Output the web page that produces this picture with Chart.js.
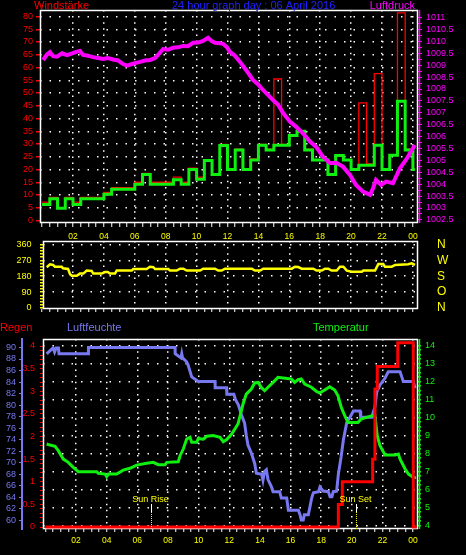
<!DOCTYPE html>
<html lang="de">
<head>
<meta charset="UTF-8">
<title>24 hour graph day : 06 April 2016</title>
<style>
    html, body { margin: 0; padding: 0; background: #000; }
    body { width: 466px; height: 555px; position: relative; overflow: hidden; }
    canvas { position: absolute; left: 0; }
    #p1 { top: 0; }
    #p2 { top: 230px; }
    #p3 { top: 315px; }
</style>
<script src="https://cdn.jsdelivr.net/npm/chart.js"></script>
</head>
<body>
<canvas id="p1" width="466" height="245"></canvas>
<canvas id="p2" width="466" height="90"></canvas>
<canvas id="p3" width="466" height="240"></canvas>
<script>
    // --- data (hours of the day, 0 = 00:00) ---
    const xLabels = ['02', '04', '06', '08', '10', '12', '14', '16', '18', '20', '22', '00'];

    // wind, half hour steps
    const windHours = [0, 0.5, 1, 1.5, 2, 2.5, 3, 3.5, 4, 4.5, 5, 5.5, 6, 6.5, 7, 7.5, 8, 8.5, 9, 9.5,
        10, 10.5, 11, 11.5, 12, 12.5, 13, 13.5, 14, 14.5, 15, 15.5, 16, 16.5, 17, 17.5, 18, 18.5, 19, 19.5,
        20, 20.5, 21, 21.5, 22, 22.5, 23, 23.5, 24, 24.13];
    const windAvg = [6.3, 8.5, 4.8, 8.5, 6.3, 8.5, 8.5, 8.5, 10.3, 12.3, 12.3, 12.3, 14.2, 18, 14.2, 14.2, 14.2, 16, 14.2, 20,
        16.2, 23.5, 18, 29.4, 20, 27.6, 20, 23.7, 29.5, 27.6, 29.5, 29.5, 33.3, 35, 27.6, 23.7, 23.7, 18, 25.5, 23.7,
        20, 21.7, 21.7, 29.5, 20, 25.6, 46.8, 27.6, 20, 20];
    const windGust = [7.2, 9.1, 4.8, 9.1, 7.2, 9.1, 9.1, 9.1, 11, 12.9, 12.9, 12.9, 15, 18.5, 15, 15, 15, 17, 15, 20.5,
        17, 23.8, 18, 29.8, 20, 28, 20, 24.2, 29.8, 28, 55.5, 29.8, 33.5, 35.2, 28, 23.7, 23.7, 18.3, 25.8, 23.7,
        20, 46.1, 22.2, 57.6, 20, 25.6, 81.4, 28, 20, 20];

    // Luftdruck (hPa)
    const pressHours = [0.06, 0.32, 0.51, 0.71, 0.96, 1.29, 1.61, 1.94, 2.26, 2.45, 2.65, 2.97, 3.29, 3.62, 3.94,
        4.26, 4.59, 4.91, 5.24, 5.5, 5.82, 6.08, 6.34, 6.66, 6.99, 7.31, 7.5, 7.83, 8.15, 8.47, 8.8, 9.12, 9.44,
        9.77, 10.09, 10.42, 10.74, 11.0, 11.2, 11.52, 11.71, 11.97, 12.16, 12.48, 12.81, 13.2, 13.65, 13.97, 14.3,
        14.62, 14.94, 15.27, 15.59, 16.04, 16.43, 16.88, 17.34, 17.73, 18.18, 18.64, 19.02, 19.47, 19.93, 20.32,
        20.77, 21.23, 21.42, 21.61, 21.94, 22.26, 22.71, 23.16, 23.55, 24.0, 24.13];
    const pressValues = [1009.22, 1009.45, 1009.55, 1009.38, 1009.36, 1009.5, 1009.42, 1009.5, 1009.57, 1009.6,
        1009.43, 1009.4, 1009.34, 1009.3, 1009.26, 1009.3, 1009.24, 1009.2, 1009.05, 1008.98, 1009.05, 1009.1,
        1009.14, 1009.2, 1009.22, 1009.3, 1009.43, 1009.68, 1009.65, 1009.73, 1009.75, 1009.81, 1009.8, 1009.94,
        1009.95, 1010.02, 1010.15, 1010.0, 1009.94, 1009.92, 1009.9, 1009.75, 1009.56, 1009.4, 1009.14, 1008.8,
        1008.38, 1008.2, 1007.96, 1007.75, 1007.54, 1007.35, 1007.0, 1006.63, 1006.42, 1006.14, 1005.79, 1005.58,
        1005.16, 1004.88, 1004.9, 1004.74, 1004.39, 1003.97, 1003.69, 1003.55, 1003.83, 1004.18, 1003.97, 1004.11,
        1004.04, 1004.67, 1005.02, 1005.51, 1005.65];

    // Windrichtung (Grad)
    const dirHours = [0.3, 0.51, 0.71, 0.83, 1.27, 1.35, 1.68, 1.81, 1.92, 2.24, 2.45, 2.67, 2.89, 3.21, 3.31,
        3.86, 4.07, 4.25, 4.39, 4.72, 4.83, 5.8, 5.9, 6.77, 6.98, 7.2, 7.31, 8.17, 8.28, 8.71, 8.93, 9.14, 9.36,
        10.22, 10.43, 11.19, 11.4, 11.62, 11.84, 13.57, 13.78, 14.11, 14.32, 16.16, 16.37, 16.58, 16.8, 17.55,
        17.77, 18.1, 18.31, 18.52, 18.74, 19.07, 19.28, 19.5, 19.72, 20.04, 20.69, 20.79, 21.55, 21.76, 22.08,
        22.19, 22.63, 22.85, 23.7, 23.92, 24.14];
    const dirValues = [231, 248, 244, 234, 234, 225, 221, 191, 183, 183, 195, 195, 212, 210, 195, 195, 204, 204,
        195, 195, 212, 212, 221, 221, 234, 231, 221, 221, 212, 212, 223, 223, 212, 212, 223, 223, 212, 212, 223,
        223, 212, 212, 223, 223, 234, 232, 223, 223, 212, 212, 223, 223, 212, 212, 234, 234, 212, 206, 206, 212,
        212, 249, 249, 234, 234, 244, 248, 253, 244];

    // Luftfeuchte (%)
    const humHours = [0.08, 0.41, 0.5, 0.6, 0.7, 0.85, 0.89, 2.8, 2.81, 8.46, 8.47, 8.85, 8.9, 8.95, 9.22, 9.31,
        9.55, 9.98, 11.07, 11.08, 11.83, 11.84, 12.3, 12.4, 12.6, 12.8, 13.0, 13.11, 13.22, 13.44, 13.55, 13.66,
        13.77, 14.12, 14.2, 14.3, 14.42, 14.53, 14.75, 14.86, 15.29, 15.4, 15.75, 15.86, 16.51, 16.62, 16.7, 16.83,
        16.9, 17.16, 17.27, 17.38, 17.49, 17.83, 17.92, 18.14, 18.47, 18.58, 18.7, 18.79, 19.01, 19.12, 19.3,
        19.45, 19.67, 19.88, 20.1, 20.54, 20.58, 21.3, 21.51, 21.63, 21.84, 22.17, 22.38, 23.15, 23.26, 23.36,
        24.01, 24.13];
    const humValues = [88.9, 89.7, 89.9, 89.2, 89.9, 89.9, 88.9, 88.9, 90, 90, 88.9, 88.2, 88.9, 88.2, 87.5, 87,
        84.9, 84.1, 84.1, 83, 83, 81.9, 81.9, 81, 80, 78.3, 76.9, 74.8, 73.1, 71.7, 70.8, 69.9, 68.2, 68, 67, 68.5,
        68.8, 67.1, 65.9, 65, 65, 63.9, 63.9, 61.8, 61.8, 61, 60.1, 60.1, 61, 61, 62.4, 63.9, 64.8, 65, 65.8, 65.1,
        65, 64.1, 64.1, 65, 65.1, 68, 71, 74, 77, 77.9, 79, 79, 77.9, 77.9, 79.7, 82.3, 83.5, 84.7, 85.8, 85.8,
        84.9, 84.1, 84.1, 82.9];

    // Temperatur (°C)
    const tempHours = [0.08, 0.3, 0.63, 0.84, 1.17, 1.49, 1.82, 2.15, 3.35, 3.45, 3.89, 4.0, 4.11, 4.65, 5.08,
        5.52, 5.96, 6.61, 7.04, 7.37, 7.81, 7.92, 8.67, 8.79, 9.0, 9.22, 9.44, 9.55, 9.88, 9.98, 10.31, 10.53,
        10.96, 11.4, 11.61, 11.83, 12.16, 12.57, 12.9, 13.11, 13.44, 13.66, 13.88, 14.09, 14.31, 14.53, 14.86,
        15.18, 15.51, 16.05, 16.27, 16.49, 16.7, 16.93, 17.36, 17.68, 17.9, 18.23, 18.56, 18.88, 19.1, 19.31,
        19.54, 19.75, 20.4, 20.62, 20.95, 21.34, 21.51, 21.66, 21.84, 22.17, 22.82, 23.04, 23.15, 23.48, 23.7,
        24.01, 24.19];
    const tempValues = [8.53, 8.47, 8.4, 8.16, 7.69, 7.51, 7.23, 6.99, 6.99, 6.9, 6.86, 6.71, 6.86, 6.86, 7.08,
        7.18, 7.36, 7.46, 7.51, 7.38, 7.38, 7.51, 7.54, 7.88, 8.25, 8.81, 8.9, 8.62, 8.62, 8.84, 8.8, 8.96, 9.0,
        8.9, 8.66, 8.78, 9.08, 9.64, 10.75, 11.3, 11.58, 11.92, 11.95, 11.68, 11.49, 11.68, 11.95, 12.23, 12.2,
        12.14, 11.95, 12.1, 12.14, 11.86, 11.68, 11.46, 11.36, 11.53, 11.71, 11.53, 11.21, 10.57, 10.1, 9.73,
        9.73, 9.92, 10.01, 10.1, 10.1, 8.99, 8.43, 7.92, 7.92, 7.97, 7.69, 7.14, 6.86, 6.68, 6.65];

    // Regen (mm, Tagessumme)
    const rainHours = [0, 19.12, 19.38, 21.36, 21.51, 21.66, 23.0, 24.01, 24.24];
    const rainValues = [0, 0.5, 1.0, 1.5, 3.05, 3.55, 4.07, 0, 0];

    // Sonnenauf- und -untergang
    const sunHours = [6.87, 20.25];
    const sunLabels = ['Sun Rise', 'Sun Set'];

    // tick labels
    const windTicks = [0, 5, 10, 15, 20, 25, 30, 35, 40, 45, 50, 55, 60, 65, 70, 75, 80];
    const pressTicks = [1002.5, 1003, 1003.5, 1004, 1004.5, 1005, 1005.5, 1006, 1006.5, 1007, 1007.5, 1008,
        1008.5, 1009, 1009.5, 1010, 1010.5, 1011];
    const dirTicks = [0, 90, 180, 270, 360];
    const dirNames = ['N', 'O', 'S', 'W', 'N'];
    const humTicks = [60, 62, 64, 66, 68, 70, 72, 74, 76, 78, 80, 82, 84, 86, 88, 90];
    const rainTicks = [0, 0.5, 1, 1.5, 2, 2.5, 3, 3.5, 4];
    const tempTicks = [4, 5, 6, 7, 8, 9, 10, 11, 12, 13, 14];

    // --- styles ---
    const FONT = "'Liberation Sans', Arial, sans-serif";
    const WHITE = '#ffffff', YELLOW = '#ffff00', RED = '#ff0000', MAGENTA = '#ff00ff',
          GREEN = '#10f010', BLUE = '#7878f0', NONE = 'rgba(0,0,0,0)';

    Chart.defaults.font.family = FONT;
    Chart.defaults.font.size = 9;

    const pts = (xs, ys) => xs.map((x, i) => ({ x: x, y: ys[i] }));
    const onStep = (v, st) => Math.abs(v / st - Math.round(v / st)) < 1e-6;
    function steps(a, b, st) {
        const out = [];
        for (let v = a; v <= b + 1e-9; v += st) out.push(Math.round(v * 1000) / 1000);
        return out;
    }
    const setTicks = list => s => { s.ticks = list.map(v => ({ value: v })); };
    const fixW = w => s => { s.width = w; s.paddingTop = 0; s.paddingBottom = 0; };
    const fixH = h => s => { s.height = h; s.paddingLeft = 0; s.paddingRight = 0; };

    function hourAxis(min, max, h, showLabels, tickLen, pad) {
        return {
            type: 'linear', position: 'bottom', min: min, max: max,
            afterBuildTicks: setTicks(steps(0, 24, 0.5)),
            afterFit: fixH(h),
            ticks: {
                display: showLabels, color: YELLOW, padding: pad, autoSkip: false, maxRotation: 0,
                font: { size: 8.5 },
                callback: v => (onStep(v, 2) && v > 0) ? xLabels[v / 2 - 1] : ''
            },
            grid: {
                color: c => (onStep(c.tick.value, 2) && c.tick.value > 0) ? WHITE : NONE,
                lineWidth: 1.5, tickColor: WHITE, tickLength: tickLen, tickWidth: 1
            },
            border: { display: false, dash: [1.5, 4.6] }
        };
    }

    // frame, titles, extra axis lines and sun marks
    const panelPlugin = {
        id: 'panel',
        beforeDatasetsDraw(chart, args, o) {
            const { ctx, chartArea: a } = chart;
            ctx.save();
            ctx.strokeStyle = WHITE;
            ctx.lineWidth = 1.5;
            ctx.strokeRect(a.left + 0.5, a.top + 0.5, a.right - a.left - 1, a.bottom - a.top - 1);
            (o.edges || []).forEach(e => {
                ctx.strokeStyle = e.color;
                ctx.lineWidth = e.width;
                ctx.beginPath();
                ctx.moveTo(e.x, a.top);
                ctx.lineTo(e.x, a.bottom);
                ctx.stroke();
            });
            ctx.restore();
        },
        afterDraw(chart, args, o) {
            const { ctx, chartArea: a } = chart;
            ctx.save();
            ctx.textBaseline = 'alphabetic';
            (o.titles || []).forEach(t => {
                ctx.font = '11px ' + FONT;
                ctx.fillStyle = t.color;
                ctx.textAlign = t.align || 'left';
                ctx.fillText(t.text, t.x, t.y);
            });
            if (o.sun) {
                sunHours.forEach((h, i) => {
                    const x = Math.round(chart.scales.x.getPixelForValue(h)) + 0.5;
                    ctx.font = '9px ' + FONT;
                    ctx.fillStyle = YELLOW;
                    ctx.textAlign = 'center';
                    ctx.fillText(sunLabels[i], x - 1, o.sun.y);
                    ctx.lineWidth = 1;
                    ctx.strokeStyle = WHITE;
                    ctx.beginPath();
                    ctx.moveTo(x, o.sun.y + 2);
                    ctx.lineTo(x, o.sun.y + 10);
                    ctx.stroke();
                    ctx.strokeStyle = YELLOW;
                    ctx.setLineDash([1, 1]);
                    ctx.beginPath();
                    ctx.moveTo(x, o.sun.y + 10);
                    ctx.lineTo(x, a.bottom);
                    ctx.stroke();
                    ctx.setLineDash([]);
                });
            }
            ctx.restore();
        }
    };

    const common = {
        responsive: false,
        devicePixelRatio: 1,
        animation: false,
        events: [],
        elements: { point: { radius: 0 }, line: { tension: 0 } }
    };

    // --- Windstärke / Luftdruck ---
    new Chart(document.getElementById('p1'), {
        type: 'line',
        data: {
            datasets: [
                { label: 'Luftdruck', data: pts(pressHours, pressValues), yAxisID: 'press',
                  borderColor: MAGENTA, borderWidth: 4, order: 0 },
                { label: 'Wind', data: pts(windHours, windAvg), yAxisID: 'wind',
                  borderColor: GREEN, borderWidth: 3, stepped: true, order: 1 },
                { label: 'Böen', data: pts(windHours, windGust), yAxisID: 'wind',
                  borderColor: RED, borderWidth: 1.3, stepped: true, order: 2 }
            ]
        },
        options: Object.assign({}, common, {
            layout: { padding: { top: 10, left: 0, right: 0, bottom: 0 } },
            plugins: {
                legend: { display: false }, tooltip: { enabled: false },
                panel: {
                    titles: [
                        { text: 'Windstärke', x: 34, y: 9, color: RED },
                        { text: '24 hour graph day : 06 April 2016', x: 172, y: 9, color: '#2020ff' },
                        { text: 'Luftdruck', x: 415, y: 9, color: MAGENTA, align: 'right' }
                    ],
                    edges: [{ x: 419.5, color: MAGENTA, width: 1.5 }]
                }
            },
            scales: {
                x: hourAxis(-0.136, 24.33, 22, true, 4, 4.5),
                wind: {
                    type: 'linear', position: 'left', min: -0.98, max: 82.55,
                    afterBuildTicks: setTicks(windTicks), afterFit: fixW(40),
                    ticks: { color: RED, padding: 3, autoSkip: false },
                    grid: { color: c => c.tick.value > 0 ? WHITE : NONE, lineWidth: 1.5,
                            tickColor: RED, tickLength: 4 },
                    border: { display: false, dash: [1.5, 8] }
                },
                press: {
                    type: 'linear', position: 'right', min: 1002.37, max: 1011.32,
                    afterBuildTicks: setTicks(steps(1002.5, 1011, 0.25)), afterFit: fixW(48),
                    ticks: { color: MAGENTA, padding: 4, autoSkip: false,
                             callback: v => pressTicks.includes(v) ? String(v) : '' },
                    grid: { drawOnChartArea: false, tickColor: MAGENTA, tickLength: 4 },
                    border: { display: false }
                }
            }
        }),
        plugins: [panelPlugin]
    });

    // --- Windrichtung ---
    new Chart(document.getElementById('p2'), {
        type: 'line',
        data: {
            datasets: [
                { label: 'Windrichtung', data: pts(dirHours, dirValues), yAxisID: 'dir',
                  borderColor: YELLOW, borderWidth: 2.5 }
            ]
        },
        options: Object.assign({}, common, {
            layout: { padding: { top: 11, left: 0, right: 0, bottom: 0 } },
            plugins: { legend: { display: false }, tooltip: { enabled: false }, panel: {} },
            scales: {
                x: hourAxis(0.058, 24.33, 11, false, 3, 0),
                dir: {
                    type: 'linear', position: 'left', min: -5.7, max: 379.8,
                    afterBuildTicks: setTicks(steps(0, 360, 18)), afterFit: fixW(43),
                    ticks: { color: YELLOW, padding: 8.5, autoSkip: false,
                             callback: v => dirTicks.includes(v) ? String(v) : '' },
                    grid: { color: c => (dirTicks.includes(c.tick.value) && c.tick.value > 0) ? WHITE : NONE,
                            lineWidth: 1.5, tickColor: YELLOW, tickLength: 3 },
                    border: { display: false, dash: [1.5, 8] }
                },
                dirR: {
                    type: 'linear', position: 'right', min: -5.7, max: 379.8,
                    afterBuildTicks: setTicks(dirTicks), afterFit: fixW(48),
                    ticks: { color: YELLOW, padding: 19, autoSkip: false, font: { size: 12 },
                             callback: (v, i) => dirNames[i] },
                    grid: { display: false, drawTicks: false },
                    border: { display: false }
                }
            }
        }),
        plugins: [panelPlugin]
    });

    // --- Regen / Luftfeuchte / Temperatur ---
    new Chart(document.getElementById('p3'), {
        type: 'line',
        data: {
            datasets: [
                { label: 'Regen', data: pts(rainHours, rainValues), yAxisID: 'rain',
                  borderColor: RED, borderWidth: 3, stepped: true, order: 0 },
                { label: 'Temperatur', data: pts(tempHours, tempValues), yAxisID: 'temp',
                  borderColor: GREEN, borderWidth: 3, order: 1 },
                { label: 'Luftfeuchte', data: pts(humHours, humValues), yAxisID: 'hum',
                  borderColor: BLUE, borderWidth: 3, order: 2 }
            ]
        },
        options: Object.assign({}, common, {
            layout: { padding: { top: 24, left: 0, right: 0, bottom: 0 } },
            plugins: {
                legend: { display: false }, tooltip: { enabled: false },
                panel: {
                    titles: [
                        { text: 'Regen', x: 0, y: 15.5, color: RED },
                        { text: 'Luftfeuchte', x: 67, y: 15.5, color: BLUE },
                        { text: 'Temperatur', x: 313, y: 15.5, color: GREEN }
                    ],
                    edges: [{ x: 419.5, color: GREEN, width: 1.5 }],
                    sun: { y: 187 }
                }
            },
            scales: {
                x: hourAxis(-0.157, 24.32, 26, true, 3, 3.5),
                hum: {
                    type: 'linear', position: 'left', weight: 1, min: 58.53, max: 91.47,
                    afterBuildTicks: setTicks(humTicks), afterFit: fixW(22),
                    ticks: { color: BLUE, padding: 3, autoSkip: false },
                    grid: { drawOnChartArea: false, tickColor: BLUE, tickLength: 3 },
                    border: { display: true, color: BLUE, width: 2 }
                },
                rain: {
                    type: 'linear', position: 'left', weight: 0, min: -0.044, max: 4.155,
                    afterBuildTicks: setTicks(steps(0, 4, 0.1)), afterFit: fixW(21),
                    ticks: { color: RED, padding: 5, autoSkip: false,
                             callback: v => rainTicks.includes(v) ? String(v) : '' },
                    grid: { drawOnChartArea: false, tickColor: RED, tickLength: 3 },
                    border: { display: false }
                },
                temp: {
                    type: 'linear', position: 'right', min: 3.81, max: 14.36,
                    afterBuildTicks: setTicks(steps(4, 14, 0.25)), afterFit: fixW(48),
                    ticks: { color: GREEN, padding: 4, autoSkip: false,
                             callback: v => tempTicks.includes(v) ? String(v) : '' },
                    grid: { color: c => tempTicks.includes(c.tick.value) ? WHITE : NONE, lineWidth: 1.5,
                            tickColor: GREEN, tickLength: 3 },
                    border: { display: false, dash: [1.5, 8] }
                }
            }
        }),
        plugins: [panelPlugin]
    });
</script>
</body>
</html>
